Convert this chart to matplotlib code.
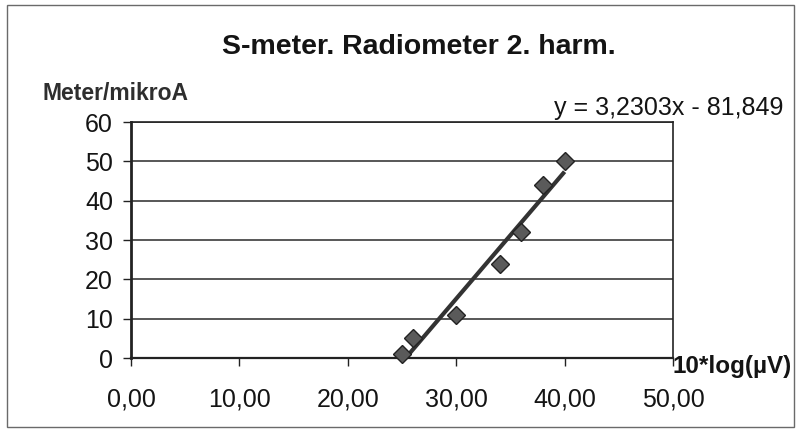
import matplotlib
matplotlib.use("Agg")
import matplotlib.pyplot as plt
from matplotlib.patches import Rectangle
import numpy as np

plt.rcParams["font.family"] = ["Liberation Sans", "DejaVu Sans"]

# Measurements: 10*log(µV) against meter reading in µA
level_db = [25, 26, 30, 34, 36, 38, 40]
meter_ua = [1, 5, 11, 24, 32, 44, 50]

# Linear trendline as given in the equation label
slope = 3.2303
intercept = -81.849

x_ticks = [0, 10, 20, 30, 40, 50]
y_ticks = [0, 10, 20, 30, 40, 50, 60]

fig = plt.figure(figsize=(7.98, 4.32), dpi=100)
fig.patch.set_facecolor("white")

# Outer chart frame
fig.add_artist(Rectangle((7 / 798, 1 - 427 / 432), 787 / 798, 422 / 432,
                         transform=fig.transFigure, fill=False,
                         edgecolor="#6a6a6a", linewidth=1.0))

ax = fig.add_axes([131 / 798, 1 - 358 / 432, 542 / 798, 236 / 432])
ax.set_xlim(0, 50)
ax.set_ylim(0, 60)

ax.set_xticks(x_ticks)
ax.set_xticklabels([f"{v:.2f}".replace(".", ",") for v in x_ticks])
ax.set_yticks(y_ticks)
ax.set_yticklabels([str(v) for v in y_ticks])
ax.tick_params(axis="both", direction="out", length=6, width=1.0,
               colors="#222222", labelsize=18, labelcolor="#141414")
ax.tick_params(axis="x", pad=15)
ax.tick_params(axis="y", pad=7)

ax.grid(axis="y", color="#2a2a2a", linewidth=1.1)
ax.set_axisbelow(True)
for side, lw in (("left", 2.0), ("bottom", 1.6), ("top", 1.2), ("right", 1.2)):
    ax.spines[side].set_color("#222222")
    ax.spines[side].set_linewidth(lw)

# Trendline over the range of the measurements
tx = np.array([min(level_db), max(level_db)])
ax.plot(tx, slope * tx + intercept, color="#333333", linewidth=3.0,
        solid_capstyle="butt", zorder=3)

ax.plot(level_db, meter_ua, linestyle="none", marker="D", markersize=9.5,
        markerfacecolor="#5a5a5a", markeredgecolor="#222222",
        markeredgewidth=1.0, zorder=4, clip_on=False)

fig.text(419 / 798, 1 - 54 / 432, "S-meter. Radiometer 2. harm.",
         ha="center", va="baseline", fontsize=20.5, fontweight="bold",
         color="#141414")
fig.text(43 / 798, 1 - 100 / 432, "Meter/mikroA", ha="left", va="baseline",
         fontsize=16.5, fontweight="bold", color="#2e2e2e")
fig.text(554 / 798, 1 - 115 / 432, "y = 3,2303x - 81,849", ha="left",
         va="baseline", fontsize=18, color="#141414")
fig.text(672 / 798, 1 - 373 / 432, "10*log(µV)", ha="left", va="baseline",
         fontsize=17.5, fontweight="bold", color="#141414")

fig.savefig("out.png", dpi=100, facecolor="white")
